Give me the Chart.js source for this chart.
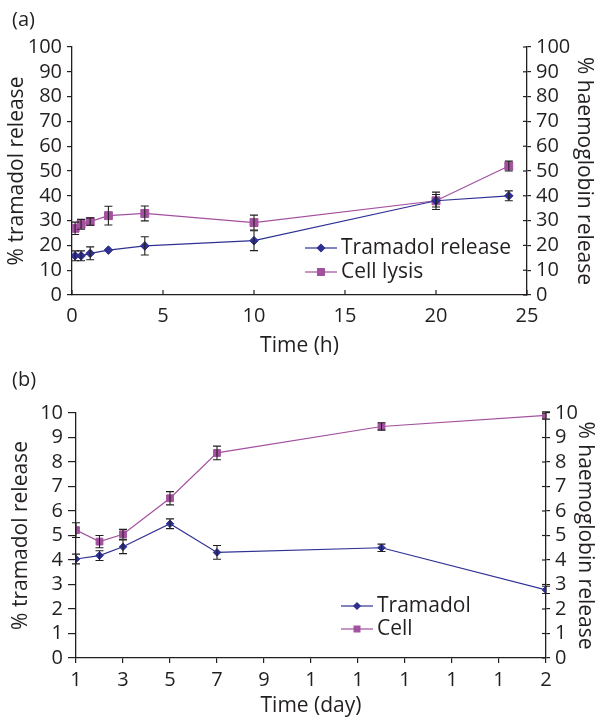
<!DOCTYPE html>
<html>
<head>
<meta charset="utf-8">
<script src="https://cdn.jsdelivr.net/npm/chart.js@4"></script>
<style>
body{margin:0;background:#fff;}
#wrap{position:relative;width:601px;height:720px;font-family:"Open Sans",sans-serif;color:#231f20;}
.panel{position:absolute;left:0;width:601px;height:360px;}
.tag{position:absolute;left:12px;font-size:20px;}
</style>
</head>
<body>
<div id="wrap">
  <div class="panel" style="top:0"><canvas id="chartA" width="601" height="360"></canvas></div>
  <div class="panel" style="top:360px"><canvas id="chartB" width="601" height="360"></canvas></div>
  <div class="tag" style="top:5px">(a)</div>
  <div class="tag" style="top:365px">(b)</div>
</div>
<script>
// panel (a): release over hours
const hoursA=[0.17,0.5,1,2,4,10,20,24];
const tramadolA=[15.8,15.8,16.8,18.1,19.8,21.9,38,40];
const tramadolErrA=[2,2,2.6,0,3.7,4,2.5,2];
const lysisA=[26.9,28.5,29.6,32,32.9,29.2,38,52];
const lysisErrA=[2.5,2,1.5,3.8,3,3,3.5,2];

// panel (b): release over days
const daysB=[1,2,3,5,7,14,21];
const tramadolB=[4.04,4.18,4.54,5.48,4.31,4.5,2.78];
const tramadolErrB=[0.2,0.2,0.28,0.2,0.28,0.15,0.15];
const cellB=[5.22,4.75,5.05,6.52,8.37,9.45,9.9];
const cellErrB=[0.3,0.25,0.2,0.27,0.28,0.15,0.15];
const dayTickLabels=["1","3","5","7","9","1","1","1","1","1","2"];

const ink="#231f20", navy="#2e3192", plum="#a3509e";
const font='"Open Sans", sans-serif';

const pts=(xs,ys)=>xs.map((x,i)=>({x,y:ys[i]}));

const errorBars={id:'errorBars',afterDatasetsDraw(chart){
  const ctx=chart.ctx, xs=chart.scales.x, ys=chart.scales.y;
  ctx.save(); ctx.strokeStyle=ink; ctx.lineWidth=1.1;
  chart.data.datasets.forEach(ds=>{ (ds.errors||[]).forEach((e,i)=>{ if(!e) return;
    const p=ds.data[i], x=xs.getPixelForValue(p.x), y1=ys.getPixelForValue(p.y-e), y2=ys.getPixelForValue(p.y+e);
    ctx.beginPath(); ctx.moveTo(x,y1); ctx.lineTo(x,y2);
    ctx.moveTo(x-4,y1); ctx.lineTo(x+4,y1); ctx.moveTo(x-4,y2); ctx.lineTo(x+4,y2); ctx.stroke(); }); });
  ctx.restore();
}};

const innerTicks={id:'innerTicks',afterDraw(chart,args,o){
  const ctx=chart.ctx, a=chart.chartArea; ctx.save(); ctx.strokeStyle=ink; ctx.lineWidth=1.2;
  if(o.x){ const s=chart.scales.x; s.ticks.forEach((t,i)=>{ const px=s.getPixelForTick(i); ctx.beginPath(); ctx.moveTo(px,a.bottom); ctx.lineTo(px,a.bottom-o.x); ctx.stroke(); }); }
  if(o.y2){ const s=chart.scales.y2; s.ticks.forEach((t,i)=>{ const py=s.getPixelForTick(i); ctx.beginPath(); ctx.moveTo(a.right,py); ctx.lineTo(a.right-o.y2,py); ctx.stroke(); }); }
  ctx.restore();
}};

const lineLegend={id:'lineLegend',afterDraw(chart,args,o){
  const ctx=chart.ctx; ctx.save(); ctx.font=`${o.size}px ${font}`; ctx.textBaseline='middle';
  chart.data.datasets.forEach((ds,i)=>{ const y=o.y+i*o.gap;
    ctx.strokeStyle=ds.borderColor; ctx.lineWidth=ds.borderWidth;
    ctx.beginPath(); ctx.moveTo(o.x,y); ctx.lineTo(o.x+32,y); ctx.stroke();
    ctx.fillStyle=ds.backgroundColor;
    Chart.helpers.drawPoint(ctx,{pointStyle:ds.pointStyle,radius:ds.pointRadius*0.85,borderWidth:1,rotation:0},o.x+16,y);
    ctx.fillStyle=ink; ctx.fillText(ds.label,o.x+36,y); });
  ctx.restore();
}};

function yAxis(pos,max,step,width,title,tickLen,titlePad){
  return {position:pos,min:0,max,afterFit:s=>{s.width=width;},
    border:{display:true,color:ink,width:1.3},
    grid:{drawOnChartArea:false,drawTicks:true,tickLength:tickLen,color:ink,lineWidth:1.2},
    ticks:{stepSize:step,autoSkip:false,color:ink,padding:5,font:{family:font,size:20}},
    title:{display:true,text:title,color:ink,font:{family:font,size:21},padding:{top:titlePad,bottom:titlePad}}};
}

function series(label,color,style,radius,data,errors){
  return {label,data,errors,borderColor:color,backgroundColor:color,borderWidth:1.2,pointStyle:style,pointRadius:radius,pointHoverRadius:radius,pointBorderWidth:1,tension:0};
}

new Chart(document.getElementById("chartA"),{
  type:"line",
  data:{datasets:[
    series("Tramadol release",navy,"rectRot",4.3,pts(hoursA,tramadolA),tramadolErrA),
    series("Cell lysis",plum,"rect",5.6,pts(hoursA,lysisA),lysisErrA)]},
  options:{responsive:false,animation:false,layout:{padding:{top:47}},
    plugins:{legend:{display:false},tooltip:{enabled:false},
      innerTicks:{x:5,y2:4},lineLegend:{x:305,y:248,gap:24,size:21}},
    scales:{
      x:{type:"linear",min:0,max:25,afterFit:s=>{s.height=65;},
        border:{display:true,color:ink,width:1.3},
        grid:{drawOnChartArea:false,drawTicks:false},
        ticks:{stepSize:5,autoSkip:false,color:ink,padding:9,font:{family:font,size:20}},
        title:{display:true,text:"Time (h)",color:ink,font:{family:font,size:21},padding:{top:0,bottom:1}}},
      y:yAxis("left",100,10,72,"% tramadol release",5,4),
      y2:yAxis("right",100,10,74,"% haemoglobin release",4,4)}},
  plugins:[errorBars,innerTicks,lineLegend]
});

new Chart(document.getElementById("chartB"),{
  type:"line",
  data:{datasets:[
    series("Tramadol",navy,"rectRot",3.8,pts(daysB,tramadolB),tramadolErrB),
    series("Cell",plum,"rect",4.8,pts(daysB,cellB),cellErrB)]},
  options:{responsive:false,animation:false,layout:{padding:{top:53}},
    plugins:{legend:{display:false},tooltip:{enabled:false},
      innerTicks:{y2:4},lineLegend:{x:341,y:246,gap:23,size:21}},
    scales:{
      x:{type:"linear",min:1,max:21,afterFit:s=>{s.height=62;},
        border:{display:true,color:ink,width:1.3},
        grid:{drawOnChartArea:false,drawTicks:true,tickLength:5,color:ink,lineWidth:1.2},
        ticks:{stepSize:2,autoSkip:false,color:ink,padding:5,font:{family:font,size:20},callback:(v,i)=>dayTickLabels[i]},
        title:{display:true,text:"Time (day)",color:ink,font:{family:font,size:21},padding:{top:0,bottom:1}}},
      y:yAxis("left",10,1,76,"% tramadol release",8,8),
      y2:yAxis("right",10,1,55,"% haemoglobin release",4,3)}},
  plugins:[errorBars,innerTicks,lineLegend]
});
</script>
</body>
</html>
